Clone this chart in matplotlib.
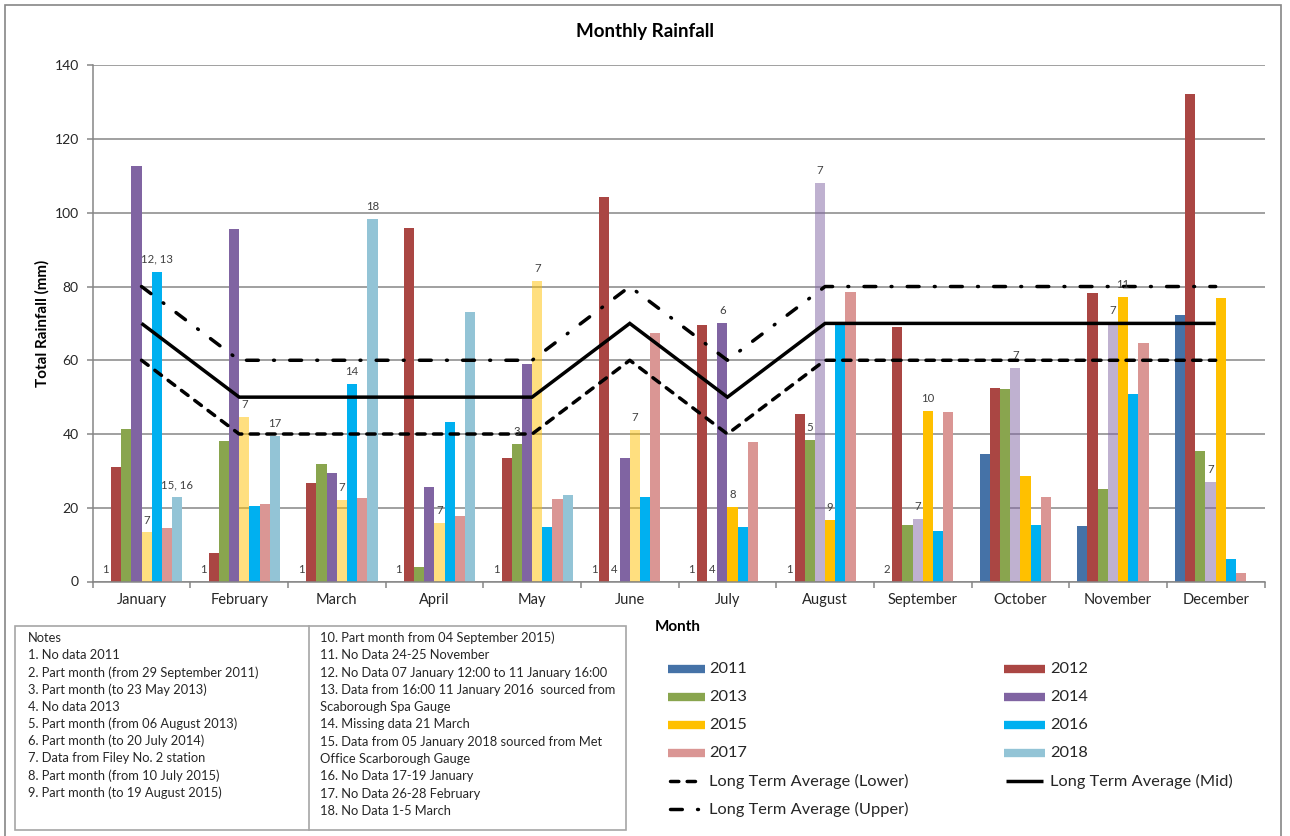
import numpy as np
import matplotlib
matplotlib.use("Agg")
import matplotlib.pyplot as plt
from matplotlib.colors import to_rgba
from matplotlib.lines import Line2D
from matplotlib.patches import Rectangle

plt.rcParams['font.family'] = ['Lato', 'DejaVu Sans']

# ---------------- data ----------------
months = ['January', 'February', 'March', 'April', 'May', 'June', 'July',
          'August', 'September', 'October', 'November', 'December']
years = ['2011', '2012', '2013', '2014', '2015', '2016', '2017', '2018']
nan = np.nan
r2011 = [nan, nan, nan, nan, nan, nan, nan, nan, 0.0, 34.6, 15.1, 72.3]
r2012 = [31.0, 7.8, 26.8, 96.0, 33.5, 104.3, 69.5, 45.5, 69.0, 52.5, 78.3, 132.2]
r2013 = [41.4, 38.1, 32.0, 3.9, 37.2, nan, nan, 38.4, 15.2, 52.3, 25.1, 35.4]
r2014 = [112.7, 95.7, 29.4, 25.5, 58.9, 33.5, 70.0, 108.2, 16.9, 57.9, 70.0, 27.1]
r2015 = [13.3, 44.7, 22.1, 15.8, 81.4, 41.0, 20.1, 16.7, 46.3, 28.5, 77.2, 77.0]
r2016 = [84.0, 20.5, 53.7, 43.3, 14.9, 22.9, 14.8, 70.0, 13.8, 15.2, 50.9, 6.2]
r2017 = [14.4, 21.0, 22.6, 17.8, 22.3, 67.4, 37.9, 78.6, 46.0, 22.8, 64.6, 2.3]
r2018 = [22.8, 39.5, 98.4, 73.1, 23.5, nan, nan, nan, nan, nan, nan, nan]

# months where the value came from Filey No. 2 station (note 7) -> drawn faded
filey_2014 = [False, False, False, False, False, False, False, True, True, True, True, True]
filey_2015 = [True, True, True, True, True, True, False, False, False, False, False, False]

lta_lower = [60, 40, 40, 40, 40, 60, 40, 60, 60, 60, 60, 60]
lta_mid = [70, 50, 50, 50, 50, 70, 50, 70, 70, 70, 70, 70]
lta_upper = [80, 60, 60, 60, 60, 80, 60, 80, 80, 80, 80, 80]

# (month index, year, note text)
note_labels = [
    (0, '2011', '1'), (0, '2015', '7'), (0, '2016', '12, 13'), (0, '2018', '15, 16'),
    (1, '2011', '1'), (1, '2015', '7'), (1, '2018', '17'),
    (2, '2011', '1'), (2, '2015', '7'), (2, '2016', '14'), (2, '2018', '18'),
    (3, '2011', '1'), (3, '2015', '7'),
    (4, '2011', '1'), (4, '2013', '3'), (4, '2015', '7'),
    (5, '2011', '1'), (5, '2013', '4'), (5, '2015', '7'),
    (6, '2011', '1'), (6, '2013', '4'), (6, '2014', '6'), (6, '2015', '8'),
    (7, '2011', '1'), (7, '2013', '5'), (7, '2014', '7'), (7, '2015', '9'),
    (8, '2011', '2'), (8, '2014', '7'), (8, '2015', '10'),
    (9, '2014', '7'),
    (10, '2014', '7'), (10, '2015', '11'),
    (11, '2014', '7'),
]

notes_left = ["Notes",
              "1. No data 2011",
              "2. Part month (from 29 September 2011)",
              "3. Part month (to 23 May 2013)",
              "4. No data 2013",
              "5. Part month (from 06 August 2013)",
              "6. Part month (to 20 July 2014)",
              "7. Data from Filey No. 2 station",
              "8. Part month (from 10 July 2015)",
              "9. Part month (to 19 August 2015)"]
notes_right = ["10. Part month from 04 September 2015)",
               "11. No Data 24-25 November",
               "12. No Data 07 January 12:00 to 11 January 16:00",
               "13. Data from 16:00 11 January 2016  sourced from",
               "Scaborough Spa Gauge",
               "14. Missing data 21 March",
               "15. Data from 05 January 2018 sourced from Met",
               "Office Scarborough Gauge",
               "16. No Data 17-19 January",
               "17. No Data 26-28 February",
               "18. No Data 1-5 March"]

series = {'2011': r2011, '2012': r2012, '2013': r2013, '2014': r2014,
          '2015': r2015, '2016': r2016, '2017': r2017, '2018': r2018}
colors = {'2011': '#4572A7', '2012': '#AA4643', '2013': '#89A54E', '2014': '#8064A2',
          '2015': '#FFC000', '2016': '#00B0F0', '2017': '#DA9694', '2018': '#93C4D6'}
faded = {'2014': filey_2014, '2015': filey_2015}

# ---------------- figure ----------------
W, H = 1290, 836
fig = plt.figure(figsize=(W / 100, H / 100), dpi=100)
fig.patch.set_facecolor('white')


def fx(px):
    return px / W


def fy(py):
    return 1 - py / H


L, R, T, B = 92.7, 1264.5, 65.3, 581.5
ax = fig.add_axes([fx(L), fy(B), fx(R) - fx(L), fy(T) - fy(B)])

grey = '#868686'
text_c = '#262626'

x = np.arange(len(months))
w = 0.1042
for j, yr in enumerate(years):
    vals = np.array(series[yr], dtype=float)
    flags = faded.get(yr, [False] * len(months))
    cols = [to_rgba(colors[yr], 0.5 if f else 1.0) for f in flags]
    ax.bar(x + (j - 3.5) * w, np.nan_to_num(vals), width=w, color=cols,
           linewidth=0, zorder=2)

for m, yr, txt in note_labels:
    j = years.index(yr)
    v = series[yr][m]
    v = 0.0 if np.isnan(v) else v
    ax.annotate(txt, (m + (j - 3.5) * w, v), xytext=(0, 5),
                textcoords='offset points', ha='center', va='bottom',
                fontsize=8.2, color='#404040', zorder=5)

lw = 2.5
style_lower = dict(color='black', lw=lw, linestyle=(0, (2.4, 2.4)),
                   dash_capstyle='round', solid_joinstyle='miter')
style_mid = dict(color='black', lw=lw, linestyle='-', solid_capstyle='butt',
                 solid_joinstyle='miter')
style_upper = dict(color='black', lw=lw, linestyle=(0, (3.4, 4.4, 0.25, 4.4)),
                   dash_capstyle='round')
ax.plot(x, lta_lower, zorder=4, **style_lower)
ax.plot(x, lta_mid, zorder=4, **style_mid)
ax.plot(x, lta_upper, zorder=4, **style_upper)

ax.set_xlim(-0.5, 11.5)
ax.set_ylim(0, 140)
ax.set_yticks(np.arange(0, 141, 20))
ax.yaxis.grid(True, color=grey, lw=1.1, zorder=0)
ax.set_axisbelow(True)
ax.set_xticks(np.arange(-0.5, 12, 1))
ax.set_xticklabels([])
ax.set_xticks(x, minor=True)
ax.set_xticklabels(months, minor=True)
ax.tick_params(axis='x', which='major', length=4, width=1.1, color=grey, direction='out')
ax.tick_params(axis='x', which='minor', length=0, pad=8, labelsize=10.5, labelcolor=text_c)
ax.tick_params(axis='y', length=4, width=1.1, color=grey, pad=6, labelsize=10,
               labelcolor=text_c)
for s in ['top', 'right']:
    ax.spines[s].set_visible(False)
for s in ['left', 'bottom']:
    ax.spines[s].set_color(grey)
    ax.spines[s].set_linewidth(1.1)

# titles
fig.text(fx(645), fy(32), 'Monthly Rainfall', ha='center', va='center',
         fontsize=13.5, fontweight='bold', color='black')
fig.text(fx(42), fy((T + B) / 2), 'Total Rainfall (mm)', ha='center', va='center',
         rotation=90, fontsize=11, fontweight='bold', color='black')
fig.text(fx(678), fy(627), 'Month', ha='center', va='center',
         fontsize=11, fontweight='bold', color='black')

# outer border
fig.patches.append(Rectangle((fx(5), fy(845)), fx(1281) - fx(5), fy(5) - fy(845),
                             transform=fig.transFigure, fill=False,
                             edgecolor=grey, lw=1.2))

# notes box
nb_l, nb_r, nb_t, nb_b, nb_mid = 15, 626, 625.5, 830, 308.5
fig.patches.append(Rectangle((fx(nb_l), fy(nb_b)), fx(nb_r) - fx(nb_l), fy(nb_t) - fy(nb_b),
                             transform=fig.transFigure, fill=False,
                             edgecolor='#A6A6A6', lw=1.2))
fig.add_artist(Line2D([fx(nb_mid), fx(nb_mid)], [fy(nb_t), fy(nb_b)],
                      transform=fig.transFigure, color='#A6A6A6', lw=1.2))
for i, t in enumerate(notes_left):
    fig.text(fx(28), fy(638 + i * 17.2), t, ha='left', va='center', fontsize=9.3,
             color=text_c)
for i, t in enumerate(notes_right):
    fig.text(fx(320), fy(638 + i * 17.3), t, ha='left', va='center', fontsize=9.3,
             color=text_c)

# legend (two columns, row-major as in the original)
leg_entries = [('2011', 'bar'), ('2012', 'bar'), ('2013', 'bar'), ('2014', 'bar'),
               ('2015', 'bar'), ('2016', 'bar'), ('2017', 'bar'), ('2018', 'bar'),
               ('Long Term Average (Lower)', style_lower),
               ('Long Term Average (Mid)', style_mid),
               ('Long Term Average (Upper)', style_upper)]
col_h = [(668, 705, 709), (1004, 1045, 1050)]
for k, (lab, kind) in enumerate(leg_entries):
    row, col = divmod(k, 2)
    yy = fy(669 + row * 28)
    h0, h1, tx = col_h[col]
    if kind == 'bar':
        fig.add_artist(Line2D([fx(h0), fx(h1)], [yy, yy], transform=fig.transFigure,
                              color=colors[lab], lw=6, solid_capstyle='butt'))
    else:
        fig.add_artist(Line2D([fx(h0 + 2), fx(h1 - 2)], [yy, yy],
                              transform=fig.transFigure, **kind))
    fig.text(fx(tx), yy, lab, ha='left', va='center', fontsize=11.8, color=text_c)

fig.savefig('out.png', dpi=100, facecolor='white')
